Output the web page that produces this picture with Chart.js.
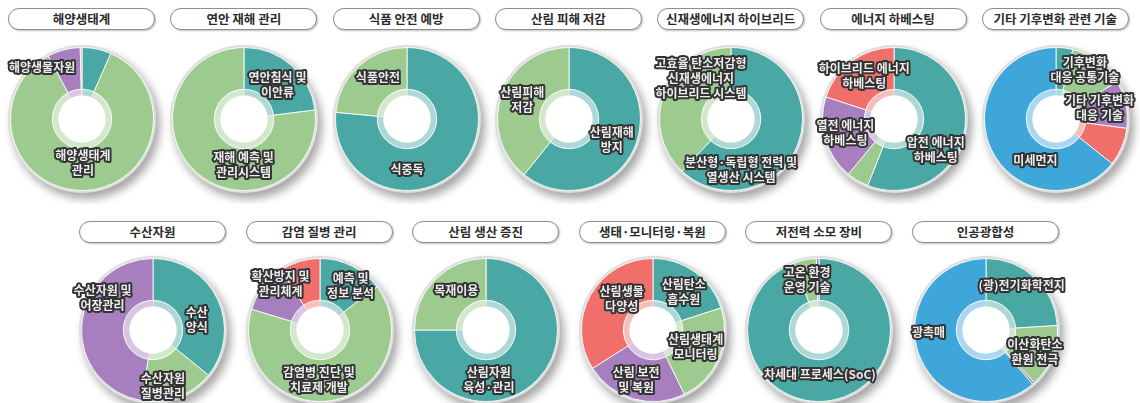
<!DOCTYPE html>
<html>
<head>
<meta charset="utf-8">
<script src="https://cdn.jsdelivr.net/npm/chart.js@4"></script>
<style>
    body { margin: 0; background: #fff; width: 1140px; height: 403px; overflow: hidden; position: relative; font-family: "Noto Sans CJK KR", sans-serif; }
    .pill { position: absolute; width: 145px; height: 20px; line-height: 20px; border: 1.5px solid #8c8c8c; border-radius: 11px; text-align: center; font-size: 12.5px; font-weight: bold; color: #2b2b2b; box-shadow: 1px 1px 2px rgba(0,0,0,0.25); background: #fff; }
    .box { position: absolute; width: 170px; height: 170px; }
</style>
</head>
<body>
<script>
// 색상 키
const C = { t: '#4aa8a4', g: '#9dca8e', p: '#a77fbe', r: '#f06f6a', b: '#3fa6d9', k: '#f2a3a6' };

const titles = ['해양생태계', '연안 재해 관리', '식품 안전 예방', '산림 피해 저감', '신재생에너지 하이브리드', '에너지 하베스팅', '기타 기후변화 관련 기술',
    '수산자원', '감염 질병 관리', '산림 생산 증진', '생태·모니터링·복원', '저전력 소모 장비', '인공광합성'];

// 각 도넛의 항목, 비율(%), 색상 키
const marineLabels = ['', '해양생태계\n관리', '해양생물자원', ''];
const marineValues = [6.6, 85.6, 7.4, 0.4];
const marineColors = ['t', 'g', 'p', 'k'];

const coastLabels = ['연안침식 및\n이안류', '재해 예측 및\n관리시스템'];
const coastValues = [23, 77];
const coastColors = ['t', 'g'];

const foodLabels = ['식중독', '식품안전'];
const foodValues = [76.5, 23.5];
const foodColors = ['t', 'g'];

const forestDmgLabels = ['산림재해\n방지', '산림피해\n저감'];
const forestDmgValues = [60.8, 39.2];
const forestDmgColors = ['t', 'g'];

const hybridLabels = ['분산형·독립형 전력 및\n열생산 시스템', '고효율 탄소저감형\n신재생에너지\n하이브리드 시스템'];
const hybridValues = [62, 38];
const hybridColors = ['t', 'g'];

const harvestLabels = ['압전 에너지\n하베스팅', '', '열전 에너지\n하베스팅', '하이브리드 에너지\n하베스팅'];
const harvestValues = [56, 5, 19, 20];
const harvestColors = ['t', 'g', 'p', 'r'];

const climateLabels = ['', '기후변화\n대응 공통기술', '기타 기후변화\n대응 기술', '', '미세먼지'];
const climateValues = [3.8, 12.5, 10.8, 8.6, 64.3];
const climateColors = ['t', 'g', 'p', 'r', 'b'];

const fisheryLabels = ['수산\n양식', '수산자원\n질병관리', '수산자원 및\n어장관리'];
const fisheryValues = [35.9, 16.7, 47.4];
const fisheryColors = ['t', 'g', 'p'];

const diseaseLabels = ['예측 및\n정보 분석', '감염병 진단 및\n치료제 개발', '', '확산방지 및\n관리체계'];
const diseaseValues = [14.7, 65, 11.1, 9.2];
const diseaseColors = ['t', 'g', 'p', 'r'];

const forestProdLabels = ['산림자원\n육성·관리', '목재이용'];
const forestProdValues = [75, 25];
const forestProdColors = ['t', 'g'];

const ecoLabels = ['산림탄소\n흡수원', '산림생태계\n모니터링', '산림 보전\n및 복원', '산림생물\n다양성'];
const ecoValues = [20, 22.8, 23.2, 34];
const ecoColors = ['t', 'g', 'p', 'r'];

const lowPowerLabels = ['차세대 프로세스(SoC)', '고온 환경\n운영 기술', ''];
const lowPowerValues = [94.4, 5, 0.6];
const lowPowerColors = ['t', 'g', 'p'];

const photoLabels = ['(광)전기화학전지', '이산화탄소\n환원 전극', '', '광촉매'];
const photoValues = [24, 14.2, 0.5, 61.3];
const photoColors = ['t', 'g', 'p', 'b'];

const series = [
    [marineLabels, marineValues, marineColors],
    [coastLabels, coastValues, coastColors],
    [foodLabels, foodValues, foodColors],
    [forestDmgLabels, forestDmgValues, forestDmgColors],
    [hybridLabels, hybridValues, hybridColors],
    [harvestLabels, harvestValues, harvestColors],
    [climateLabels, climateValues, climateColors],
    [fisheryLabels, fisheryValues, fisheryColors],
    [diseaseLabels, diseaseValues, diseaseColors],
    [forestProdLabels, forestProdValues, forestProdColors],
    [ecoLabels, ecoValues, ecoColors],
    [lowPowerLabels, lowPowerValues, lowPowerColors],
    [photoLabels, photoValues, photoColors]
];

// 라벨 위치 미세 조정 (px)
const nudges = [
    [null, [-1, -7], [-27, -3]],
    [[0, 4], [33, 8]],
    [[-34, 13], [5, -4]],
    [[-5, 4], [1, -2]],
    [[-37, 32], [17, -22]],
    [[-8, 21], null, [0, 0], [0, -2]],
    [null, [-1, -8], [-6, -1], null, [25, 19]],
    [[-2, 12], [-8, 9], [0, -28]],
    [[8, 1], [-10, 0], null, [-25, 2]],
    [[-33, 14], [6, -4]],
    [[1, 3], [-4, -3], [-3, 1], [13, -7]],
    [[-8, -5], [-2, 0]],
    [[1, -8], [2, 3], null, [-10, -15]]
];

function lighten(hex, t) {
    const n = parseInt(hex.slice(1), 16);
    const r = (n >> 16) & 255, g = (n >> 8) & 255, b = n & 255;
    const m = v => Math.round(v + (255 - v) * t);
    return `rgb(${m(r)}, ${m(g)}, ${m(b)})`;
}

// 바깥 테두리 + 그림자, 가운데 구멍은 흰색으로
const ringPlugin = {
    id: 'ring',
    beforeDatasetsDraw(chart) {
        const outer = chart.getDatasetMeta(0).data[0];
        const inner = chart.getDatasetMeta(1).data[0];
        if (!outer || !inner) return;
        const ctx = chart.ctx;
        ctx.save();
        ctx.shadowColor = 'rgba(0, 0, 0, 0.35)';
        ctx.shadowBlur = 8;
        ctx.shadowOffsetX = 4;
        ctx.shadowOffsetY = 6;
        ctx.beginPath();
        ctx.arc(outer.x, outer.y, outer.outerRadius + 2.5, 0, Math.PI * 2);
        ctx.fillStyle = '#dedede';
        ctx.fill();
        ctx.restore();
        ctx.save();
        ctx.beginPath();
        ctx.arc(inner.x, inner.y, inner.innerRadius + 0.5, 0, Math.PI * 2);
        ctx.fillStyle = '#fff';
        ctx.fill();
        ctx.restore();
    }
};

// 조각 라벨 (흰 글자 + 어두운 외곽선)
const labelPlugin = {
    id: 'sliceLabels',
    afterDatasetsDraw(chart, args, opts) {
        const ctx = chart.ctx;
        const meta = chart.getDatasetMeta(0);
        const labels = chart.data.labels;
        ctx.save();
        ctx.font = 'bold 12px "Noto Sans CJK KR"';
        ctx.textAlign = 'center';
        ctx.textBaseline = 'middle';
        ctx.lineJoin = 'round';
        meta.data.forEach((arc, i) => {
            if (!labels[i]) return;
            const pos = arc.tooltipPosition();
            const nd = (opts.nudge && opts.nudge[i]) || [0, 0];
            const lines = labels[i].split('\n');
            const lh = 15;
            lines.forEach((line, j) => {
                const x = pos.x + nd[0];
                const y = pos.y + nd[1] + (j - (lines.length - 1) / 2) * lh;
                ctx.lineWidth = 4;
                ctx.strokeStyle = '#333';
                ctx.strokeText(line, x, y);
                ctx.fillStyle = '#ececec';
                ctx.fillText(line, x, y);
            });
        });
        ctx.restore();
    }
};

series.forEach(([labels, values, colors], idx) => {
    const top = idx < 7;
    const col = top ? idx : idx - 7;
    const cx = top ? 82 + col * 162.3 : 153 + col * 166.6;
    const cy = top ? 119 : 330;
    const pillTop = top ? 8 : 221;

    const pill = document.createElement('div');
    pill.className = 'pill';
    pill.textContent = titles[idx];
    pill.style.left = (cx - 74) + 'px';
    pill.style.top = pillTop + 'px';
    document.body.appendChild(pill);

    const box = document.createElement('div');
    box.className = 'box';
    box.style.left = (cx - 85) + 'px';
    box.style.top = (cy - 85) + 'px';
    const canvas = document.createElement('canvas');
    canvas.width = 170;
    canvas.height = 170;
    box.appendChild(canvas);
    document.body.appendChild(box);

    const base = colors.map(k => C[k]);
    new Chart(canvas.getContext('2d'), {
        type: 'doughnut',
        data: {
            labels: labels,
            datasets: [{
                data: values,
                backgroundColor: base,
                borderColor: 'rgba(255, 255, 255, 0.85)',
                borderWidth: 1,
                weight: 41
            }, {
                data: values,
                backgroundColor: base.map(c => lighten(c, 0.55)),
                borderColor: 'rgba(255, 255, 255, 0.6)',
                borderWidth: 0.5,
                weight: 6
            }]
        },
        options: {
            responsive: false,
            animation: false,
            events: [],
            cutout: '33%',
            layout: { padding: 13 },
            plugins: {
                legend: { display: false },
                tooltip: { enabled: false },
                sliceLabels: { nudge: nudges[idx] }
            }
        },
        plugins: [ringPlugin, labelPlugin]
    });
});
</script>
</body>
</html>
